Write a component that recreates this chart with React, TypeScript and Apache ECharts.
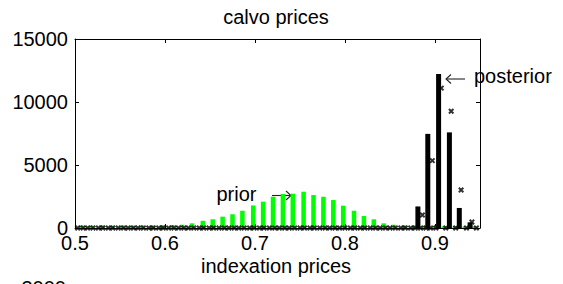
import React, { useEffect, useRef } from "react";
import * as echarts from "echarts";

const FONT = "'Liberation Sans', Arial, sans-serif";

const priorX = [0.507, 0.518, 0.53, 0.541, 0.552, 0.563, 0.574, 0.586, 0.597, 0.608, 0.619, 0.63, 0.642, 0.653, 0.664, 0.675, 0.686, 0.698, 0.709, 0.72, 0.731, 0.742, 0.754, 0.765, 0.776, 0.787, 0.798, 0.81, 0.821, 0.832, 0.843, 0.854, 0.866, 0.877, 0.888, 0.899, 0.91, 0.922, 0.933, 0.944];
const priorY = [200, 190, 210, 180, 200, 190, 210, 200, 220, 240, 260, 370, 570, 690, 900, 1090, 1370, 1790, 2090, 2480, 2700, 2720, 2880, 2620, 2480, 2220, 1770, 1370, 950, 690, 370, 260, 210, 190, 170, 150, 140, 130, 120, 110];

const posteriorX = [0.881, 0.892, 0.904, 0.916, 0.927, 0.939];
const posteriorY = [1710, 7470, 12230, 7590, 1590, 450];

const markX = [0.503, 0.509, 0.514, 0.52, 0.526, 0.531, 0.537, 0.542, 0.548, 0.554, 0.559, 0.565, 0.57, 0.576, 0.582, 0.587, 0.593, 0.598, 0.604, 0.61, 0.615, 0.621, 0.626, 0.632, 0.638, 0.643, 0.649, 0.654, 0.66, 0.666, 0.671, 0.677, 0.682, 0.688, 0.694, 0.699, 0.705, 0.71, 0.716, 0.722, 0.727, 0.733, 0.738, 0.744, 0.75, 0.755, 0.761, 0.766, 0.772, 0.778, 0.783, 0.789, 0.794, 0.8, 0.806, 0.811, 0.817, 0.822, 0.828, 0.834, 0.839, 0.845, 0.85, 0.856, 0.862, 0.867, 0.873, 0.878, 0.884, 0.89, 0.895, 0.901, 0.912, 0.923, 0.935, 0.946, 0.886, 0.897, 0.907, 0.918, 0.929, 0.941];
const markY = [0, 0, 0, 0, 0, 0, 0, 0, 0, 0, 0, 0, 0, 0, 0, 0, 0, 0, 0, 0, 0, 0, 0, 0, 0, 0, 0, 0, 0, 0, 0, 0, 0, 0, 0, 0, 0, 0, 0, 0, 0, 0, 0, 0, 0, 0, 0, 0, 0, 0, 0, 0, 0, 0, 0, 0, 0, 0, 0, 0, 0, 0, 0, 0, 0, 0, 0, 0, 0, 0, 0, 0, 0, 0, 0, 0, 1030, 5350, 11100, 9260, 3020, 480];

const xTicks = { min: 0.5, max: 0.95, interval: 0.1 };
const yTicks = { min: 0, max: 15000, interval: 5000 };

const titleText = "calvo prices";
const xName = "indexation prices";
const nextPanelLabel = "3000";

function txt(text: string, x: number, y: number, align: string) {
  return {
    type: "text",
    x,
    y,
    silent: true,
    style: {
      text,
      fill: "#000",
      font: `20px ${FONT}`,
      textAlign: align,
      textVerticalAlign: "middle",
      align,
      verticalAlign: "middle",
    },
  };
}

function arrow(x1: number, x2: number, y: number, headAt: "left" | "right") {
  const hx = headAt === "left" ? x1 : x2;
  const d = headAt === "left" ? 5 : -5;
  const st = { stroke: "#222", lineWidth: 1.1, fill: null };
  return {
    type: "group",
    silent: true,
    children: [
      { type: "line", shape: { x1, y1: y, x2, y2: y }, style: st },
      { type: "polyline", shape: { points: [[hx + d, y - 4.5], [hx, y], [hx + d, y + 4.5]] }, style: st },
    ],
  };
}

export default function App() {
  const ref = useRef<HTMLDivElement>(null);
  useEffect(() => {
    if (!ref.current) return;
    const chart = echarts.init(ref.current, null, { renderer: "svg" });
    const axisLine = { show: true, onZero: false, lineStyle: { color: "#000", width: 1 } };
    const axisTick = { show: true, inside: true, length: 4, lineStyle: { color: "#000", width: 1 } };
    chart.setOption({
      animation: false,
      backgroundColor: "#fff",
      grid: { left: 75, right: 83, top: 39, bottom: 56, containLabel: false },
      xAxis: [
        {
          type: "value",
          ...xTicks,
          axisLine,
          axisTick,
          splitLine: { show: false },
          axisLabel: {
            color: "#000",
            fontSize: 20,
            fontFamily: FONT,
            margin: 5,
            lineHeight: 20,
            showMaxLabel: false,
            formatter: (v: number) => (v > 0.94 ? "" : v.toFixed(1)),
          },
        },
        {
          type: "value",
          position: "top",
          ...xTicks,
          axisLine,
          axisTick,
          splitLine: { show: false },
          axisLabel: { show: false },
        },
      ],
      yAxis: [
        {
          type: "value",
          ...yTicks,
          axisLine,
          axisTick,
          splitLine: { show: false },
          axisLabel: {
            color: "#000",
            fontSize: 20,
            fontFamily: FONT,
            margin: 7,
            formatter: (v: number) => String(v),
          },
        },
        {
          type: "value",
          position: "right",
          ...yTicks,
          axisLine,
          axisTick,
          splitLine: { show: false },
          axisLabel: { show: false },
        },
      ],
      series: [
        {
          type: "bar",
          xAxisIndex: 0,
          yAxisIndex: 0,
          barWidth: 4.5,
          itemStyle: { color: "#00ff00" },
          data: priorX.map((x, i) => [x, priorY[i]]),
        },
        {
          type: "bar",
          xAxisIndex: 1,
          yAxisIndex: 0,
          barWidth: 5,
          itemStyle: { color: "#000" },
          data: posteriorX.map((x, i) => [x, posteriorY[i]]),
        },
        {
          type: "scatter",
          xAxisIndex: 0,
          yAxisIndex: 0,
          symbol: "path://M0,0L10,10M10,0L0,10",
          symbolSize: 4.5,
          itemStyle: { color: "rgba(0,0,0,0)", borderColor: "#000", borderWidth: 2 },
          data: markX.map((x, i) => [x, markY[i]]),
          z: 5,
        },
      ],
      graphic: [
        txt(titleText, 276, 16.5, "center"),
        txt(xName, 276, 266, "center"),
        arrow(446, 465, 79, "left"),
        txt("posterior", 474, 76, "left"),
        txt("prior", 216.5, 194, "left"),
        arrow(272, 291, 195.5, "right"),
        txt(nextPanelLabel, 66, 287.5, "right"),
      ],
    });
    return () => chart.dispose();
  }, []);
  return (
    <div
      ref={ref}
      style={{ position: "fixed", left: 0, top: 0, width: 563, height: 284, background: "#fff" }}
    />
  );
}
